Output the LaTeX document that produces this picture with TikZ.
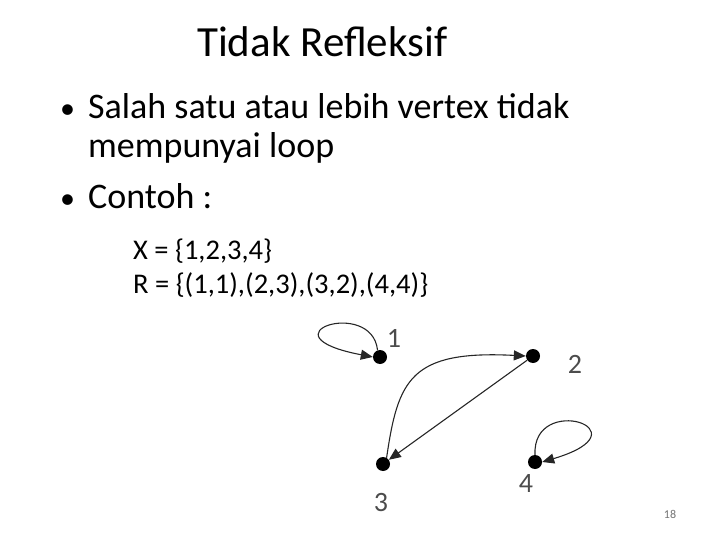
\documentclass[tikz,border=0pt]{standalone}
\usepackage{fontspec}
\setmainfont{Carlito}
\usetikzlibrary{arrows.meta}
\begin{document}
\begin{tikzpicture}[x=1pt,y=-1pt,
  vtx/.style={circle,fill=black,inner sep=0pt,minimum size=14pt},
  lbl/.style={font=\fontsize{28}{28}\selectfont,text=black!70,inner sep=0pt},
  edge/.style={draw=black!85,line width=1.1pt,-{Triangle[length=12pt,width=10pt]}},
  txt/.style={anchor=base west,inner sep=0pt}]
\useasboundingbox (0,0) rectangle (720,540);
% title and text
\node[txt,font=\fontsize{43}{43}\selectfont] (title) at (197,57) {Tidak Refleksif};
\node[txt,font=\fontsize{30}{30}\selectfont] (b1) at (60,119) {•};
\node[txt,font=\fontsize{36}{36}\selectfont] (t1) at (88,119) {Salah satu atau lebih vertex tidak};
\node[txt,font=\fontsize{36}{36}\selectfont] (t2) at (88,158) {mempunyai loop};
\node[txt,font=\fontsize{30}{30}\selectfont] (b2) at (60,209) {•};
\node[txt,font=\fontsize{36}{36}\selectfont] (t3) at (88,209) {Contoh :};
\node[txt,font=\fontsize{28.5}{28.5}\selectfont] (x) at (133,259) {X = \{1,2,3,4\}};
\node[txt,font=\fontsize{28.5}{28.5}\selectfont] (r) at (133,293) {R = \{(1,1),(2,3),(3,2),(4,4)\}};
\node[font=\fontsize{12}{12}\selectfont,text=black!55] (pg) at (670,514) {18};
% vertices
\node[vtx] (n1) at (380,357) {};
\node[vtx] (n2) at (533,356) {};
\node[vtx] (n3) at (383,464) {};
\node[vtx] (n4) at (535,462) {};
% labels
\node[lbl] (l1) at (394,338) {1};
\node[lbl] (l2) at (575,364) {2};
\node[lbl] (l3) at (381,503) {3};
\node[lbl] (l4) at (526,484) {4};
% edges
\draw[edge] (n1.110) .. controls (372,297) and (258,335) .. (n1.west);
\draw[edge] (n4.north) .. controls (532,392) and (650,430) .. (n4.east);
\draw[edge] (n3.60) .. controls (398,380) and (410,350) .. (n2.west);
\draw[edge] (n2) -- (n3);
\end{tikzpicture}
\end{document}
